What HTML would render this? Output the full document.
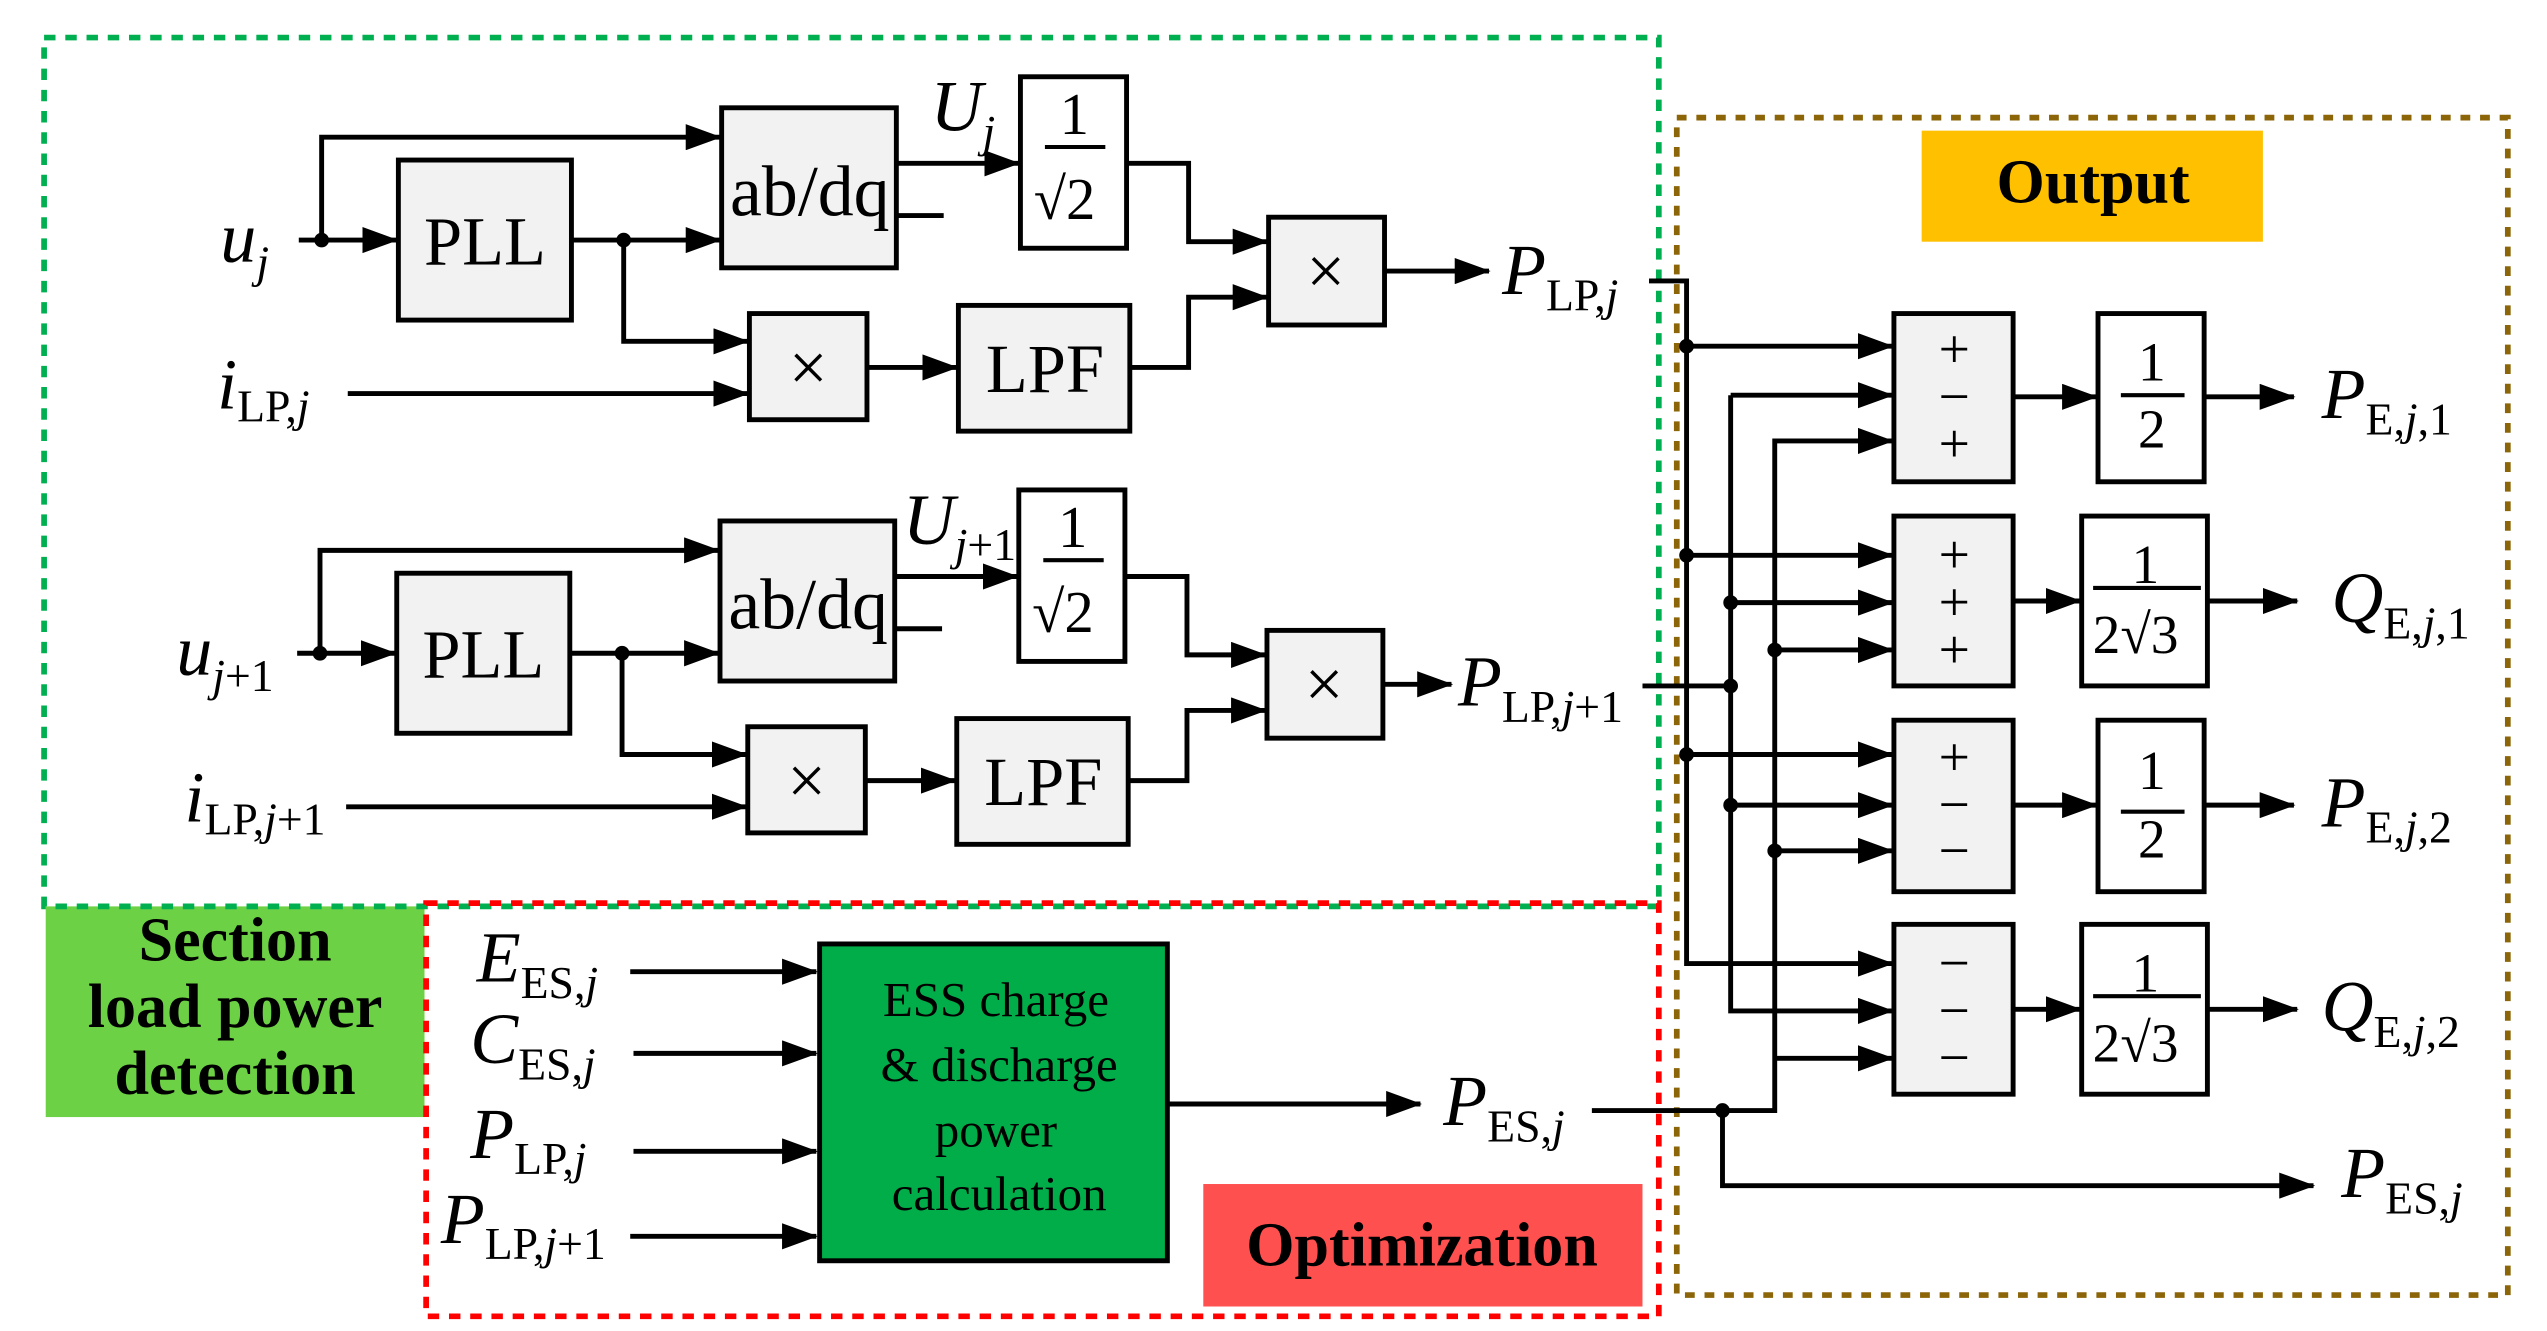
<!DOCTYPE html>
<html><head><meta charset="utf-8"><style>
html,body{margin:0;padding:0;background:#fff;}
svg{display:block;}
text{font-family:"Liberation Serif",serif;fill:#000;}
.v{font-style:italic;font-size:44px;}
.s{font-size:28px;font-style:normal;}
.i{font-style:italic;}
.b{font-size:42px;}
</style></head><body>
<svg width="2547" height="1331" viewBox="0 0 1560 815" preserveAspectRatio="none" xmlns="http://www.w3.org/2000/svg">
<defs><marker id="a" markerWidth="22" markerHeight="16" refX="21" refY="8" orient="auto" markerUnits="userSpaceOnUse"><path d="M0,0L22,8L0,16z" fill="#000"/></marker></defs>

<rect x="28" y="555" width="232" height="129" fill="#6dd145"/>
<rect x="1177" y="80" width="209" height="68" fill="#ffc000"/>
<rect x="737" y="725" width="269" height="75" fill="#ff5050"/>
<rect x="27" y="23" width="989" height="532" fill="none" stroke="#00b050" stroke-width="3.5" stroke-dasharray="7,6"/>
<rect x="1027" y="72" width="509" height="721" fill="none" stroke="#8b6508" stroke-width="3.5" stroke-dasharray="6,6"/>
<rect x="261" y="553" width="755" height="253" fill="none" stroke="#ff0000" stroke-width="3.5" stroke-dasharray="7,6"/>

<text x="144" y="588" text-anchor="middle" font-weight="bold" font-size="38">Section</text>
<text x="144" y="629" text-anchor="middle" font-weight="bold" font-size="38">load power</text>
<text x="144" y="670" text-anchor="middle" font-weight="bold" font-size="38">detection</text>
<text x="1282" y="124" text-anchor="middle" font-weight="bold" font-size="38">Output</text>
<text x="871" y="775" text-anchor="middle" font-weight="bold" font-size="38">Optimization</text>

<g stroke="#000" stroke-width="3" fill="none">
<g id="top">
<rect x="244" y="98" width="106" height="98" fill="#f2f2f2"/>
<rect x="442" y="66" width="107" height="98" fill="#f2f2f2"/>
<rect x="625" y="47" width="65" height="105" fill="#fff"/>
<rect x="777" y="133" width="71" height="66" fill="#f2f2f2"/>
<rect x="459" y="192" width="72" height="65" fill="#f2f2f2"/>
<rect x="587" y="187" width="105" height="77" fill="#f2f2f2"/>
<path d="M183,147H243" marker-end="url(#a)"/>
<path d="M197,147V84H441" marker-end="url(#a)"/>
<path d="M350,147H441" marker-end="url(#a)"/>
<path d="M382,147V209H458" marker-end="url(#a)"/>
<path d="M549,100H624" marker-end="url(#a)"/>
<path d="M549,132H578"/>
<path d="M690,100H728V148H776" marker-end="url(#a)"/>
<path d="M213,241H458" marker-end="url(#a)"/>
<path d="M531,225H586" marker-end="url(#a)"/>
<path d="M692,225H728V182H776" marker-end="url(#a)"/>
<path d="M640,90H677" stroke-width="2.5"/>
</g>
<use href="#top" transform="translate(-1,253)"/>
<path d="M848,166H912" marker-end="url(#a)"/>
<path d="M847,419H889" marker-end="url(#a)"/>

<rect x="1160" y="192" width="73" height="103" fill="#f2f2f2"/>
<rect x="1160" y="316" width="73" height="104" fill="#f2f2f2"/>
<rect x="1160" y="441" width="73" height="105" fill="#f2f2f2"/>
<rect x="1160" y="566" width="73" height="104" fill="#f2f2f2"/>
<rect x="1285" y="192" width="65" height="103" fill="#fff"/>
<rect x="1275" y="316" width="77" height="104" fill="#fff"/>
<rect x="1285" y="441" width="65" height="105" fill="#fff"/>
<rect x="1275" y="566" width="77" height="104" fill="#fff"/>
<path d="M1010,172H1033V590H1159" marker-end="url(#a)"/>
<path d="M1033,212H1159" marker-end="url(#a)"/>
<path d="M1033,340H1159" marker-end="url(#a)"/>
<path d="M1033,462H1159" marker-end="url(#a)"/>
<path d="M1006,420H1060"/>
<path d="M1060,242V619H1159" marker-end="url(#a)"/>
<path d="M1060,242H1159" marker-end="url(#a)"/>
<path d="M1060,369H1159" marker-end="url(#a)"/>
<path d="M1060,493H1159" marker-end="url(#a)"/>
<path d="M975,680H1087V270H1159" marker-end="url(#a)"/>
<path d="M1087,398H1159" marker-end="url(#a)"/>
<path d="M1087,521H1159" marker-end="url(#a)"/>
<path d="M1087,648H1159" marker-end="url(#a)"/>
<path d="M1055,680V726H1417" marker-end="url(#a)"/>
<path d="M1233,243H1284" marker-end="url(#a)"/>
<path d="M1233,368H1274" marker-end="url(#a)"/>
<path d="M1233,493H1284" marker-end="url(#a)"/>
<path d="M1233,618H1274" marker-end="url(#a)"/>
<path d="M1350,243H1405" marker-end="url(#a)"/>
<path d="M1352,368H1407" marker-end="url(#a)"/>
<path d="M1350,493H1405" marker-end="url(#a)"/>
<path d="M1352,618H1407" marker-end="url(#a)"/>
<path d="M1299,242H1338M1299,497H1338M1282,360H1348M1282,610H1348" stroke-width="2.5"/>

<rect x="502" y="578" width="213" height="194" fill="#00ad48"/>
<path d="M386,595H500" marker-end="url(#a)"/>
<path d="M388,645H500" marker-end="url(#a)"/>
<path d="M388,705H500" marker-end="url(#a)"/>
<path d="M386,757H500" marker-end="url(#a)"/>
<path d="M715,676H870" marker-end="url(#a)"/>
</g>
<g fill="#000">
<circle cx="197" cy="147" r="4.5"/><circle cx="382" cy="147" r="4.5"/>
<circle cx="196" cy="400" r="4.5"/><circle cx="381" cy="400" r="4.5"/>
<circle cx="1033" cy="212" r="4.5"/><circle cx="1033" cy="340" r="4.5"/><circle cx="1033" cy="462" r="4.5"/>
<circle cx="1060" cy="369" r="4.5"/><circle cx="1060" cy="420" r="4.5"/><circle cx="1060" cy="493" r="4.5"/>
<circle cx="1087" cy="398" r="4.5"/><circle cx="1087" cy="521" r="4.5"/>
<circle cx="1055" cy="680" r="4.5"/>
</g>

<g class="b" text-anchor="middle">
<text x="297" y="162">PLL</text><text x="296" y="415">PLL</text>
<text x="496" y="132" font-size="44">ab/dq</text><text x="495" y="385" font-size="44">ab/dq</text>
<text x="812" y="180">×</text><text x="811" y="433">×</text>
<text x="495" y="239">×</text><text x="494" y="492">×</text>
<text x="640" y="240">LPF</text><text x="639" y="493">LPF</text>
<text x="658" y="82" font-size="36">1</text><text x="657" y="335" font-size="36">1</text>
<text x="652" y="134" font-size="36">√2</text><text x="651" y="387" font-size="36">√2</text>
</g>
<g font-size="34" text-anchor="middle">
<text x="1197" y="225">+</text><text x="1197" y="254">−</text><text x="1197" y="283">+</text>
<text x="1197" y="351">+</text><text x="1197" y="380">+</text><text x="1197" y="409">+</text>
<text x="1197" y="475">+</text><text x="1197" y="504">−</text><text x="1197" y="532">−</text>
<text x="1197" y="601">−</text><text x="1197" y="630">−</text><text x="1197" y="659">−</text>
<text x="1318" y="233">1</text><text x="1318" y="274">2</text>
<text x="1314" y="357">1</text><text x="1308" y="400">2√3</text>
<text x="1318" y="483">1</text><text x="1318" y="525">2</text>
<text x="1314" y="607">1</text><text x="1308" y="650">2√3</text>
</g>
<g font-size="30" text-anchor="middle">
<text x="610" y="622">ESS charge</text>
<text x="612" y="662">&amp; discharge</text>
<text x="610" y="702">power</text>
<text x="612" y="741">calculation</text>
</g>

<text x="135" y="160" class="v">u<tspan class="s i" dy="10">j</tspan></text>
<text x="133" y="250" class="v">i<tspan class="s" dy="8">LP,</tspan><tspan class="s i">j</tspan></text>
<text x="108" y="413" class="v">u<tspan class="s" dy="10"><tspan class="i">j</tspan>+1</tspan></text>
<text x="113" y="503" class="v">i<tspan class="s" dy="8">LP,</tspan><tspan class="s i">j</tspan><tspan class="s">+1</tspan></text>
<text x="570" y="80" class="v">U<tspan class="s i" dy="10">j</tspan></text>
<text x="553" y="333" class="v">U<tspan class="s" dy="10"><tspan class="i">j</tspan>+1</tspan></text>
<text x="920" y="180" class="v">P<tspan class="s" dy="10">LP,</tspan><tspan class="s i">j</tspan></text>
<text x="893" y="432" class="v">P<tspan class="s" dy="10">LP,</tspan><tspan class="s i">j</tspan><tspan class="s">+1</tspan></text>
<text x="1422" y="256" class="v">P<tspan class="s" dy="10">E,</tspan><tspan class="s i">j</tspan><tspan class="s">,1</tspan></text>
<text x="1428" y="381" class="v">Q<tspan class="s" dy="10">E,</tspan><tspan class="s i">j</tspan><tspan class="s">,1</tspan></text>
<text x="1422" y="506" class="v">P<tspan class="s" dy="10">E,</tspan><tspan class="s i">j</tspan><tspan class="s">,2</tspan></text>
<text x="1422" y="631" class="v">Q<tspan class="s" dy="10">E,</tspan><tspan class="s i">j</tspan><tspan class="s">,2</tspan></text>
<text x="1434" y="733" class="v">P<tspan class="s" dy="10">ES,</tspan><tspan class="s i">j</tspan></text>
<text x="884" y="689" class="v">P<tspan class="s" dy="10">ES,</tspan><tspan class="s i">j</tspan></text>
<text x="292" y="601" class="v">E<tspan class="s" dy="10">ES,</tspan><tspan class="s i">j</tspan></text>
<text x="288" y="651" class="v">C<tspan class="s" dy="10">ES,</tspan><tspan class="s i">j</tspan></text>
<text x="288" y="709" class="v">P<tspan class="s" dy="10">LP,</tspan><tspan class="s i">j</tspan></text>
<text x="270" y="761" class="v">P<tspan class="s" dy="10">LP,</tspan><tspan class="s i">j</tspan><tspan class="s">+1</tspan></text>
</svg>
</body></html>
